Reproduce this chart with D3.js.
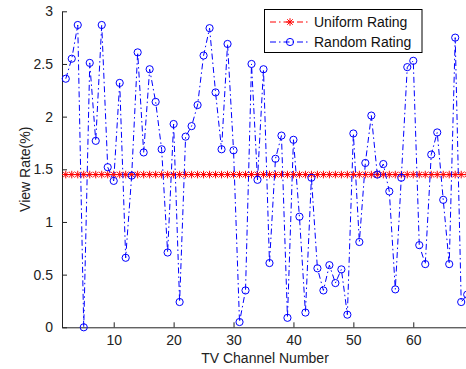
<!DOCTYPE html>
<html>
<head>
<meta charset="utf-8">
<script src="https://cdn.jsdelivr.net/npm/d3@7"></script>
<style>
  body { margin: 0; background: #fff; }
  svg { display: block; font-family: "Liberation Sans", Arial, sans-serif; }
  .axis text { font-size: 14px; fill: #222; }
  .axis path, .axis line { stroke: #222; }
</style>
</head>
<body>
<div id="chart"></div>
<script>
// Data
const channels = [2, 3, 4, 5, 6, 7, 8, 9, 10, 11, 12, 13, 14, 15, 16, 17, 18, 19, 20,
    21, 22, 23, 24, 25, 26, 27, 28, 29, 30, 31, 32, 33, 34, 35, 36, 37, 38, 39, 40,
    41, 42, 43, 44, 45, 46, 47, 48, 49, 50, 51, 52, 53, 54, 55, 56, 57, 58, 59, 60,
    61, 62, 63, 64, 65, 66, 67, 68, 69];
const randomRating = [2.36, 2.55, 2.87, 0.0, 2.51, 1.77, 2.87, 1.52, 1.39, 2.32, 0.66,
    1.44, 2.61, 1.66, 2.45, 2.14, 1.69, 0.71, 1.93, 0.24, 1.81, 1.91, 2.11, 2.58, 2.84,
    2.23, 1.69, 2.69, 1.68, 0.05, 0.35, 2.50, 1.40, 2.45, 0.61, 1.60, 1.82, 0.09, 1.78,
    1.05, 0.14, 1.42, 0.56, 0.35, 0.59, 0.42, 0.55, 0.12, 1.84, 0.81, 1.56, 2.01, 1.45,
    1.55, 1.29, 0.36, 1.42, 2.47, 2.53, 0.78, 0.60, 1.64, 1.85, 1.21, 0.60, 2.75, 0.24, 0.31];
const uniformRate = 1.45;
const xTicks = [10, 20, 30, 40, 50, 60];
const yTicks = [0, 0.5, 1, 1.5, 2, 2.5, 3];
const seriesNames = ['Uniform Rating', 'Random Rating'];

const width = 466, height = 369;
const margin = { left: 62, top: 11.3, bottom: 41.7 };

const svg = d3.select('#chart').append('svg')
    .attr('width', width)
    .attr('height', height);

const x = d3.scaleLinear().domain([1.37, 68.8]).range([margin.left, width]);
const y = d3.scaleLinear().domain([0, 3]).range([height - margin.bottom, margin.top]);

// Axes, ticks pointing inward
svg.append('g')
    .attr('class', 'axis')
    .attr('transform', `translate(0,${y(0)})`)
    .call(d3.axisBottom(x).tickValues(xTicks).tickSizeInner(-5).tickSizeOuter(0).tickPadding(8)
        .tickFormat(d => d));

svg.append('g')
    .attr('class', 'axis')
    .attr('transform', `translate(${margin.left},0)`)
    .call(d3.axisLeft(y).tickValues(yTicks).tickSizeInner(-5).tickSizeOuter(0).tickPadding(9)
        .tickFormat(d => String(d)));

svg.selectAll('.axis path').attr('stroke-width', 1);

// Axis titles
svg.append('text')
    .attr('x', 265).attr('y', 363)
    .attr('text-anchor', 'middle')
    .attr('font-size', 14).attr('fill', '#222')
    .text('TV Channel Number');

svg.append('text')
    .attr('transform', `translate(30,${(y(0) + y(3)) / 2}) rotate(-90)`)
    .attr('text-anchor', 'middle')
    .attr('font-size', 14).attr('fill', '#222')
    .text('View Rate(%)');

function asterisk(g, cx, cy, r, color) {
    const d = r * 0.72;
    const path = `M${cx - r},${cy}H${cx + r}M${cx},${cy - r}V${cy + r}` +
        `M${cx - d},${cy - d}L${cx + d},${cy + d}M${cx - d},${cy + d}L${cx + d},${cy - d}`;
    g.append('path').attr('d', path).attr('stroke', color).attr('stroke-width', 1).attr('fill', 'none');
}

const red = '#ff0000';
const blue = '#0000ff';

// Uniform rating
const uniformLine = d3.line().x(d => x(d)).y(() => y(uniformRate));
svg.append('path')
    .datum(channels)
    .attr('d', uniformLine)
    .attr('fill', 'none')
    .attr('stroke', red)
    .attr('stroke-width', 1)
    .attr('stroke-dasharray', '6,3,1.5,3');

const uniG = svg.append('g');
channels.forEach(c => asterisk(uniG, x(c), y(uniformRate), 3.8, red));

// Random rating
const randomLine = d3.line().x((d, i) => x(channels[i])).y(d => y(d));
svg.append('path')
    .datum(randomRating)
    .attr('d', randomLine)
    .attr('fill', 'none')
    .attr('stroke', blue)
    .attr('stroke-width', 1)
    .attr('stroke-dasharray', '6,3,1.5,3');

svg.append('g').selectAll('circle')
    .data(randomRating)
    .join('circle')
    .attr('cx', (d, i) => x(channels[i]))
    .attr('cy', d => y(d))
    .attr('r', 3.6)
    .attr('fill', 'none')
    .attr('stroke', blue)
    .attr('stroke-width', 1);

// Legend
const legend = svg.append('g');
legend.append('rect')
    .attr('x', 264.5).attr('y', 9.5)
    .attr('width', 157.5).attr('height', 43)
    .attr('fill', '#fff').attr('stroke', '#000').attr('stroke-width', 1);

const legendRows = [22, 42];
seriesNames.forEach((name, i) => {
    const ly = legendRows[i];
    const color = i === 0 ? red : blue;
    legend.append('line')
        .attr('x1', 270).attr('x2', 310).attr('y1', ly).attr('y2', ly)
        .attr('stroke', color).attr('stroke-width', 1)
        .attr('stroke-dasharray', '6,3,1.5,3');
    if (i === 0) {
        asterisk(legend, 290, ly, 3.8, red);
    } else {
        legend.append('circle').attr('cx', 290).attr('cy', ly).attr('r', 3.6)
            .attr('fill', 'none').attr('stroke', blue);
    }
    legend.append('text')
        .attr('x', 314).attr('y', ly + 5)
        .attr('font-size', 14).attr('fill', '#111')
        .text(name);
});
</script>
</body>
</html>
